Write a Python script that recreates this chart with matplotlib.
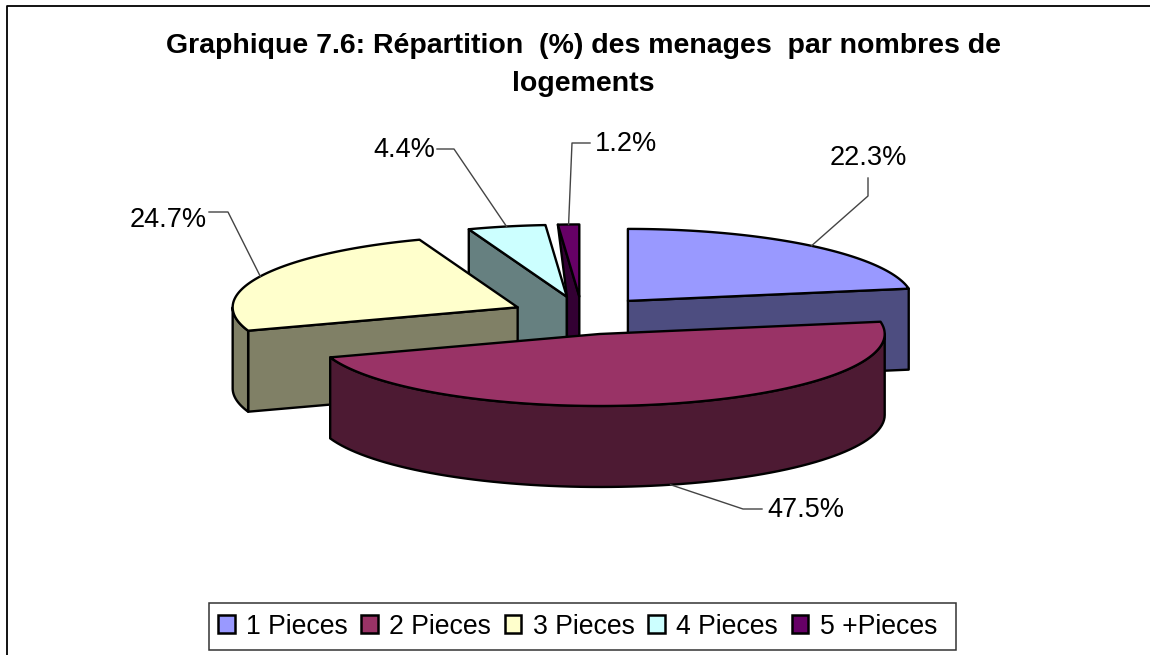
#!/usr/bin/env python3
"""Graphique 7.6: camembert 3D eclate, dessine a la main a partir des parts."""

import matplotlib

matplotlib.use("Agg")
import matplotlib.pyplot as plt
import numpy as np
from matplotlib.patches import Patch, Polygon, Rectangle

plt.rcParams["font.family"] = ["Liberation Sans", "DejaVu Sans"]

TITLE = ["Graphique 7.6: Répartition  (%) des menages  par nombres de", "logements"]
CATEGORIES = ["1 Pieces", "2 Pieces", "3 Pieces", "4 Pieces", "5 +Pieces"]
VALUES = [22.3, 47.5, 24.7, 4.4, 1.2]
TOP_COLORS = ["#9999FF", "#993366", "#FFFFCC", "#CCFFFF", "#660066"]
SIDE_COLORS = ["#4D4D80", "#4D1A33", "#808066", "#668080", "#330033"]

# geometrie de l'ellipse, en pixels
CX, CY = 582, 315.5
RX, RY = 285, 72
DEPTH = 81
EXPLODE_X, EXPLODE_Y = 0.25, 0.265
DRAW_ORDER = [3, 4, 0, 2, 1]

# position du texte, coude du trait de rappel, bout du trait cote texte
LABEL_POS = [(868, 158), (806, 510), (168, 220), (404, 150), (626, 144)]
ELBOWS = [[(868, 196), (868, 178)], [(743, 509), (762, 509)], [(228, 212), (209, 212)],
          [(454, 149), (437, 149)], [(572, 143), (590, 143)]]


def rim(apex, deg):
    t = np.radians(deg)
    return np.column_stack([apex[0] + RX * np.sin(t), apex[1] - RY * np.cos(t)])


def apex_of(mid):
    m = np.radians(mid)
    return np.array([CX + EXPLODE_X * RX * np.sin(m), CY - EXPLODE_Y * RY * np.cos(m)])


def draw_slice(ax, start, end, top, side, prev_apex=None):
    apex = apex_of((start + end) / 2)
    down = np.array([0, DEPTH])
    style = {"edgecolor": "black", "linewidth": 1.7, "joinstyle": "round"}

    # parois radiales visibles
    for ang, visible in ((end, end < 180), (start, start > 180)):
        if not visible:
            continue
        p = rim(apex, np.array([ang]))[0]
        if prev_apex is not None:
            # la toute petite part: sa paroi s'arrete contre la part voisine
            pts = [p, apex, apex + down, prev_apex + down, prev_apex]
        else:
            pts = [apex, p, p + down, apex + down]
        ax.add_patch(Polygon(pts, facecolor=side, **style))

    # bord exterieur, seulement la partie tournee vers l'avant
    lo, hi = max(start, 90), min(end, 270)
    if lo < hi:
        arc = rim(apex, np.linspace(lo, hi, 80))
        ax.add_patch(Polygon(np.vstack([arc, arc[::-1] + down]), facecolor=side, **style))

    arc = rim(apex, np.linspace(start, end, 120))
    ax.add_patch(Polygon(np.vstack([[apex], arc]), facecolor=top, **style))
    return apex


def main():
    fig = plt.figure(figsize=(11.5, 6.55), dpi=100)
    ax = fig.add_axes([0, 0, 1, 1])
    ax.set_xlim(0, 1150)
    ax.set_ylim(655, 0)
    ax.axis("off")

    # cadre du graphique, coupe a droite et en bas
    ax.plot([7, 7, 1150], [655, 5.5, 5.5], color="black", lw=1.3)
    ax.text(583.5, 46, TITLE[0], ha="center", va="center", fontsize=20.5, fontweight="bold")
    ax.text(583.5, 84, TITLE[1], ha="center", va="center", fontsize=20.5, fontweight="bold")

    edges = np.cumsum([0] + VALUES) / sum(VALUES) * 360
    mids = (edges[:-1] + edges[1:]) / 2
    anchors = {}
    for i in DRAW_ORDER:
        prev = apex_of(mids[i - 1]) if i == len(VALUES) - 1 else None
        apex = draw_slice(ax, edges[i], edges[i + 1], TOP_COLORS[i], SIDE_COLORS[i], prev)
        p = rim(apex, np.array([mids[i]]))[0]
        if 90 < mids[i] < 270:
            p = p + np.array([0, DEPTH])
        anchors[i] = p

    for i, val in enumerate(VALUES):
        pts = np.vstack([[anchors[i]], ELBOWS[i]])
        ax.plot(pts[:, 0], pts[:, 1], color="#444444", lw=1, zorder=5)
        ax.text(*LABEL_POS[i], f"{val:.1f}%", ha="center", va="center", fontsize=19.5, zorder=6)

    # cadre de legende a part: le marge droite est plus large que la gauche
    ax.add_patch(Rectangle((209, 603), 747, 47, facecolor="white", edgecolor="#333333", linewidth=1.1))
    handles = [Patch(facecolor=c, edgecolor="black", linewidth=1.8) for c in TOP_COLORS]
    ax.legend(handles, CATEGORIES, loc="center", bbox_to_anchor=(577.5, 626.5),
              bbox_transform=ax.transData, ncol=5, fontsize=19.2, frameon=False,
              handlelength=0.62, handleheight=0.62, handletextpad=0.42,
              columnspacing=0.52, borderpad=0, borderaxespad=0)

    fig.savefig("out.png", dpi=100)
    plt.close(fig)


if __name__ == "__main__":
    main()
